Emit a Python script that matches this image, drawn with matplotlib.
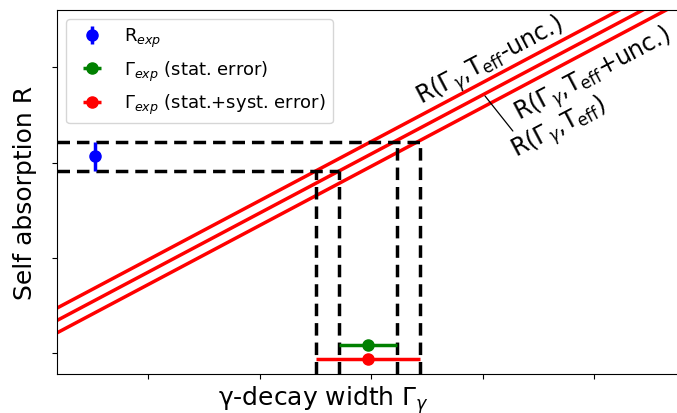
import matplotlib
matplotlib.use("Agg")
import matplotlib.pyplot as plt

R_EXP = 2.068
R_EXP_ERR = 0.152
R_EXP_GAMMA = 0.52

GAMMA_EXP = 2.97
GAMMA_STAT = 0.257
GAMMA_TOT = 0.463
Y_STAT_POINT = 0.09
Y_TOT_POINT = -0.063

# R(Gamma) curves, straight lines sampled at two gamma values
GAMMA_GRID = [0.0, 6.5]
R_MINUS_UNC = [0.362, 4.392]
R_NOMINAL = [0.232, 4.262]
R_PLUS_UNC = [0.102, 4.132]

XLIM = (0.185, 6.0)
YLIM = (-0.214, 3.602)

W, H = 677, 414
fig = plt.figure(figsize=(W / 100, H / 100), dpi=100)
ax_left, ax_bottom = 57.4 / W, (H - 374.7) / H
ax_w = (XLIM[1] - XLIM[0]) * 111.5 / W
ax_h = (374.7 - 11.0) / H
ax = fig.add_axes([ax_left, ax_bottom, ax_w, ax_h])

for r in (R_MINUS_UNC, R_NOMINAL, R_PLUS_UNC):
    ax.plot(GAMMA_GRID, r, color="red", lw=2.5)

lo, hi = R_EXP - R_EXP_ERR, R_EXP + R_EXP_ERR
g_tot = (GAMMA_EXP - GAMMA_TOT, GAMMA_EXP + GAMMA_TOT)
g_stat = (GAMMA_EXP - GAMMA_STAT, GAMMA_EXP + GAMMA_STAT)

dash = dict(color="black", ls="--", lw=2.5, dashes=(3.6, 2.0))
ax.plot([XLIM[0], g_stat[0]], [lo, lo], **dash)
ax.plot([XLIM[0], g_tot[1]], [hi, hi], **dash)
ax.plot([g_tot[0], g_tot[0]], [YLIM[0], lo], **dash)
ax.plot([g_stat[0], g_stat[0]], [YLIM[0], lo], **dash)
ax.plot([g_stat[1], g_stat[1]], [YLIM[0], hi], **dash)
ax.plot([g_tot[1], g_tot[1]], [YLIM[0], hi], **dash)

ax.errorbar(R_EXP_GAMMA, R_EXP, yerr=R_EXP_ERR, fmt="o", color="blue",
            ms=8, lw=2.5, label="R$_{exp}$")
ax.errorbar(GAMMA_EXP, Y_STAT_POINT, xerr=GAMMA_STAT,
            fmt="o", color="green", ms=8, lw=2.5,
            label=r"$\Gamma_{exp}$ (stat. error)")
ax.errorbar(GAMMA_EXP, Y_TOT_POINT, xerr=GAMMA_TOT,
            fmt="o", color="red", ms=8, lw=2.5,
            label=r"$\Gamma_{exp}$ (stat.+syst. error)")

ax.set_xlim(*XLIM)
ax.set_ylim(*YLIM)
ax.set_xticks([1, 2, 3, 4, 5])
ax.set_yticks([0, 1, 2, 3])
ax.set_xticklabels([])
ax.set_yticklabels([])
ax.spines["right"].set_visible(False)

ax.set_xlabel(r"γ-decay width $\Gamma_\gamma$", fontsize=18, labelpad=0)
ax.xaxis.label.set_x(0.411)
ax.set_ylabel("Self absorption R", fontsize=18, labelpad=8)

rot = 27.8
ax.text(4.07, 3.067, r"R($\Gamma_\gamma$,T$_{\rm eff}$-unc.)", fontsize=17,
        rotation=rot, ha="center", va="center")
ax.text(4.99, 2.92, r"R($\Gamma_\gamma$,T$_{\rm eff}$+unc.)", fontsize=17,
        rotation=rot, ha="center", va="center")
ax.text(4.69, 2.37, r"R($\Gamma_\gamma$,T$_{\rm eff}$)", fontsize=17,
        rotation=rot, ha="center", va="center")
ax.annotate("", xy=(4.02, 2.70), xytext=(4.27, 2.332),
            arrowprops=dict(arrowstyle="-", color="black", lw=0.9,
                            shrinkA=0, shrinkB=0))

ax.legend(loc="upper left", fontsize=13, borderaxespad=0.5)

fig.savefig("out.png", dpi=100)
